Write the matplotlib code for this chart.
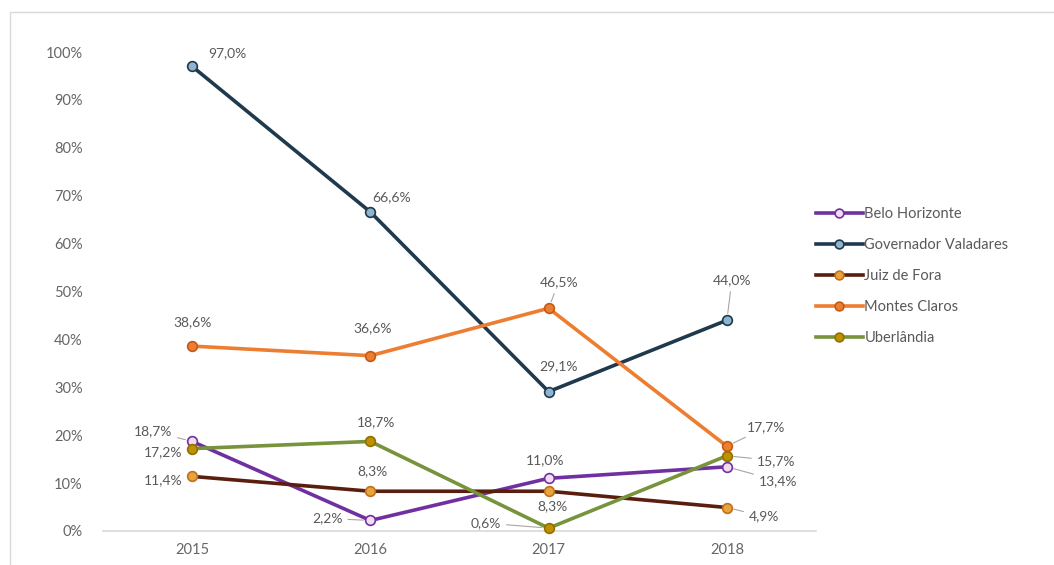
import matplotlib.pyplot as plt
from matplotlib.patches import Rectangle
from matplotlib.ticker import PercentFormatter

years = ['2015', '2016', '2017', '2018']
cities = ['Belo Horizonte', 'Governador Valadares', 'Juiz de Fora',
          'Montes Claros', 'Uberlândia']
belo_horizonte = [18.7, 2.2, 11.0, 13.4]
gov_valadares = [97.0, 66.6, 29.1, 44.0]
juiz_de_fora = [11.4, 8.3, 8.3, 4.9]
montes_claros = [38.6, 36.6, 46.5, 17.7]
uberlandia = [17.2, 18.7, 0.6, 15.7]

series = [belo_horizonte, gov_valadares, juiz_de_fora, montes_claros, uberlandia]
line_colors = ['#7030A0', '#1F3A4D', '#5A1E0E', '#ED7D31', '#77933C']
marker_faces = ['#F2DCEF', '#8EB4D0', '#E8A33A', '#ED7D31', '#BF9000']
marker_edges = ['#7030A0', '#1F3A4D', '#C0701F', '#C55A11', '#8F7000']

# label offsets in pixels (dx, dy, ha, leader line?)
offsets = [
    [(-20, 10, 'right', True), (-28, 2, 'right', True), (-4, 18, 'center', False), (32, -14, 'left', True)],
    [(16, 13, 'left', False), (2, 15, 'left', False), (10, 25, 'center', False), (5, 40, 'center', True)],
    [(-10, -4, 'right', False), (2, 20, 'center', False), (4, -15, 'center', False), (22, -9, 'left', True)],
    [(0, 24, 'center', False), (2, 28, 'center', False), (10, 26, 'center', True), (20, 19, 'left', True)],
    [(-10, -4, 'right', False), (6, 19, 'center', False), (-78, 5, 'left', True), (30, -5, 'left', True)],
]

plt.rcParams['font.family'] = ['Lato', 'DejaVu Sans']
fig = plt.figure(figsize=(10.54, 5.65), dpi=100)
fig.patches.append(Rectangle((10 / 1054, -0.1), 1.2, 1.1 - 12 / 565,
                             transform=fig.transFigure, fill=False,
                             edgecolor='#D9D9D9', linewidth=1))
ax = fig.add_axes([103 / 1054, 34 / 565, 713 / 1054, 479 / 565])

x = range(len(years))
for i, vals in enumerate(series):
    v = [val / 100 for val in vals]
    ax.plot(x, v, color=line_colors[i], linewidth=2.6, marker='o',
            markersize=7, markerfacecolor=marker_faces[i],
            markeredgecolor=marker_edges[i], markeredgewidth=1.2,
            label=cities[i], clip_on=False, zorder=3)
    for j, val in enumerate(vals):
        dx, dy, ha, lead = offsets[i][j]
        txt = f'{val:.1f}%'.replace('.', ',')
        ax.annotate(txt, (j, val / 100), xytext=(dx, dy),
                    textcoords='offset pixels', ha=ha, va='center',
                    fontsize=10, color='#595959', zorder=4,
                    arrowprops=dict(arrowstyle='-', color='#A6A6A6', lw=0.8,
                                    shrinkA=2, shrinkB=5) if lead else None)

ax.set_xlim(-0.5, 3.5)
ax.set_ylim(0, 1.0)
ax.set_xticks(list(x))
ax.set_xticklabels(years)
ax.set_yticks([k / 10 for k in range(11)])
ax.yaxis.set_major_formatter(PercentFormatter(1.0, decimals=0))
ax.tick_params(length=0, labelsize=10.5, colors='#666666')
ax.tick_params(axis='y', pad=14.5)
ax.tick_params(axis='x', pad=9)
for s in ['top', 'right', 'left']:
    ax.spines[s].set_visible(False)
ax.spines['bottom'].set_color('#D9D9D9')
ax.spines['bottom'].set_linewidth(1.2)

fig.legend(loc='upper left', bbox_to_anchor=(803 / 1054, 1 - 194 / 565),
           frameon=False, fontsize=10.5, handlelength=3.2, handletextpad=0.1,
           labelspacing=1.17, labelcolor='#595959', markerscale=0.9)

fig.savefig('out.png', dpi=100)
